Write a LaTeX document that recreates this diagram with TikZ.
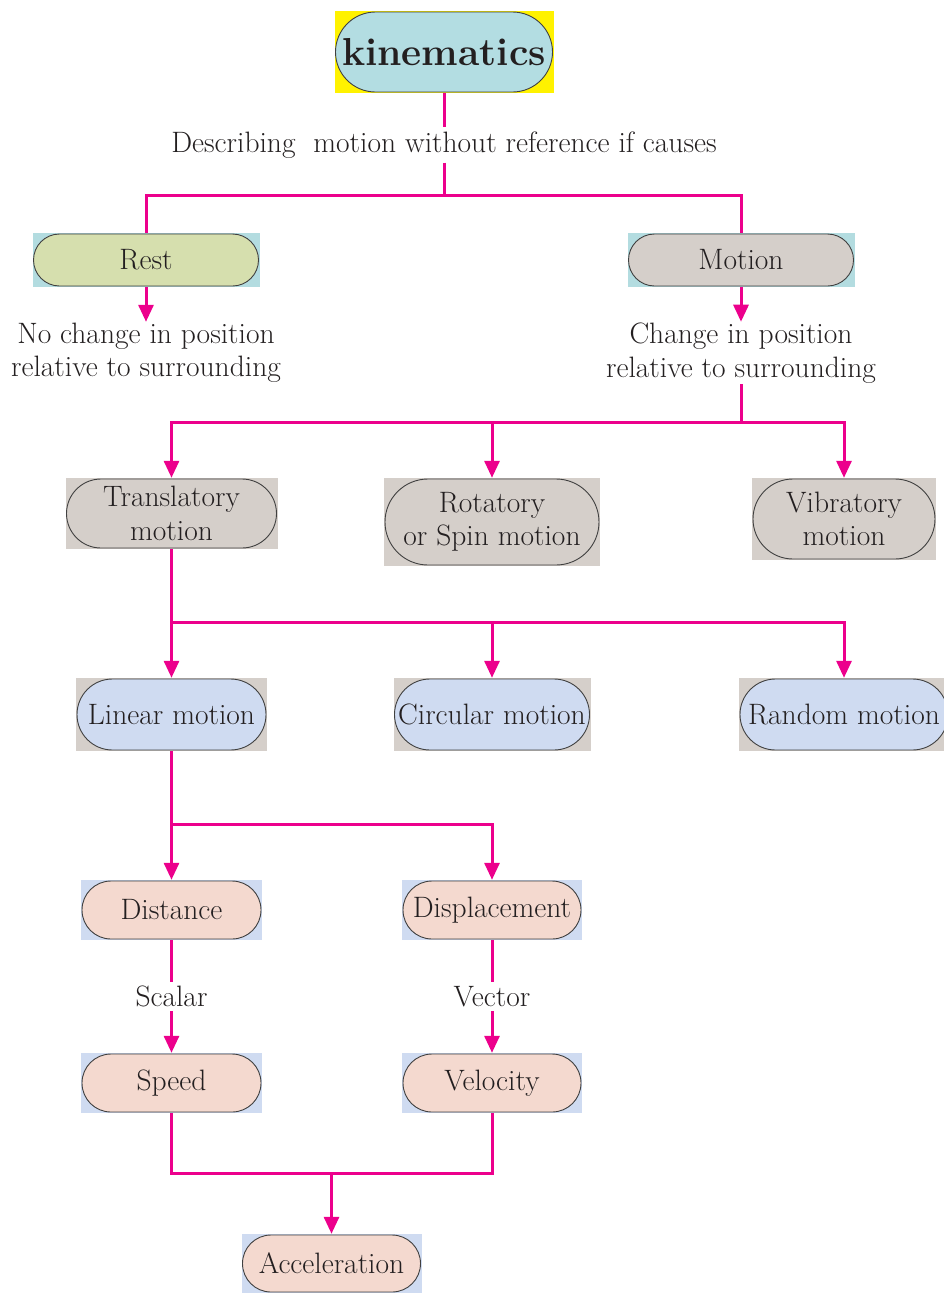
\documentclass[tikz,border=0pt]{standalone}
\usetikzlibrary{shapes.misc,arrows.meta}
\definecolor{mag}{HTML}{EC008C}
\definecolor{txt}{HTML}{231F20}
\definecolor{yel}{HTML}{FFF200}
\definecolor{cyanp}{HTML}{B3DDE2}
\definecolor{cyanb}{HTML}{B3DCE0}
\definecolor{greenp}{HTML}{D6DFAE}
\definecolor{grayp}{HTML}{D5CFCA}
\definecolor{bluep}{HTML}{CFDBF1}
\definecolor{peachp}{HTML}{F4D9CF}
\newcommand\mkbox[8]{%
  \node[bgrect, fill=#6, minimum width=#4, minimum height=#5] (#1) at (#2,#3) {};
  \node[pill, fill=#7, minimum width=#4-2, minimum height=#5-2] (#1p) at (#1) {#8};
}
\begin{document}
\begin{tikzpicture}[x=1pt,y=-1pt,
  bgrect/.style={rectangle, draw=none, inner sep=0pt},
  pill/.style={rounded rectangle, draw=black!75, line width=0.9pt, inner sep=0pt,
     align=center, text=txt, font=\fontsize{29.5}{33.5}\selectfont},
  lbl/.style={text=txt, font=\fontsize{29.5}{33.5}\selectfont, align=center, inner sep=1pt},
  link/.style={draw=mag, line width=3pt},
  arrow/.style={link, -{Triangle[length=17pt, width=15pt]}}
]
\useasboundingbox (0,0) rectangle (944,1293);

\mkbox{kin}{444}{52}{219}{82}{yel}{cyanp}{\fontsize{39}{45}\selectfont\bfseries kinematics}
\mkbox{rest}{146}{260}{227}{54}{cyanb}{greenp}{Rest}
\mkbox{motion}{741}{260}{227}{54}{cyanb}{grayp}{Motion}
\mkbox{trans}{171.5}{513.5}{212}{71}{grayp}{grayp}{Translatory\\motion}
\mkbox{rot}{492}{522}{216}{88}{grayp}{grayp}{Rotatory\\or Spin motion}
\mkbox{vib}{844}{519}{184}{82}{grayp}{grayp}{Vibratory\\motion}
\mkbox{lin}{171.5}{714.5}{191}{73}{grayp}{bluep}{Linear motion}
\mkbox{circ}{492}{714.5}{197}{73}{grayp}{bluep}{Circular motion}
\mkbox{rand}{844}{714.5}{210}{73}{grayp}{bluep}{Random motion}
\mkbox{dist}{171.5}{910}{181}{60}{bluep}{peachp}{Distance}
\mkbox{disp}{492}{910}{180}{60}{bluep}{peachp}{Displacement}
\mkbox{speed}{171.5}{1083}{181}{60}{bluep}{peachp}{Speed}
\mkbox{vel}{492}{1083}{180}{60}{bluep}{peachp}{Velocity}
\mkbox{acc}{331.5}{1263.5}{180}{59}{bluep}{peachp}{Acceleration}

\node[lbl, inner sep=4pt] (desc) at (444,145) {Describing~ motion without reference if causes};
\node[lbl] (nochange) at (146,353) {No change in position\\relative to surrounding};
\node[lbl] (change) at (741,353) {Change in position\\relative to surrounding};

\coordinate (j1) at (444,195);
\coordinate (j2) at (741,422);
\coordinate (j3) at (171.5,622);
\coordinate (j4) at (171.5,824);
\coordinate (j5) at (331.5,1173);

\draw[link] (kin.south) -- (desc.north);
\draw[link] (desc.south) -- (j1);
\draw[link] (j1) -| (rest.north);
\draw[link] (j1) -| (motion.north);
\draw[arrow] (rest.south) -- (nochange.north);
\draw[arrow] (motion.south) -- (change.north);
\draw[link] (change.south) -- (j2);
\draw[arrow] (j2) -| (trans.north);
\draw[arrow] (j2) -| (rot.north);
\draw[arrow] (j2) -| (vib.north);
\draw[link] (trans.south) -- (j3);
\draw[arrow] (j3) -- (lin.north);
\draw[arrow] (j3) -| (circ.north);
\draw[arrow] (j3) -| (rand.north);
\draw[link] (lin.south) -- (j4);
\draw[arrow] (j4) -- (dist.north);
\draw[arrow] (j4) -| (disp.north);
\draw[arrow] (dist.south) -- node[lbl, fill=white, inner sep=4pt] (scalar) {Scalar} (speed.north);
\draw[arrow] (disp.south) -- node[lbl, fill=white, inner sep=4pt] (vector) {Vector} (vel.north);
\draw[link] (speed.south) |- (j5);
\draw[link] (vel.south) |- (j5);
\draw[arrow] (j5) -- (acc.north);
\end{tikzpicture}
\end{document}
